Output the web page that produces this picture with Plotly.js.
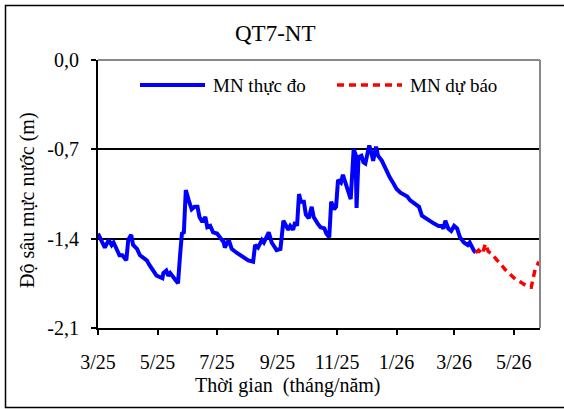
<!DOCTYPE html>
<html>
<head>
<meta charset="utf-8">
<script src="https://cdn.plot.ly/plotly-3.0.1.min.js"></script>
<style>html,body{margin:0;padding:0;background:#fff;}#chart{width:564px;height:409px;}</style>
</head>
<body>
<div id="chart"></div>
<script>
// Observed water level depth (MN thực đo)
const obsDates = ['2025-03-01','2025-03-05','2025-03-08','2025-03-12','2025-03-15','2025-03-17','2025-03-20','2025-03-23','2025-03-26','2025-03-30',
'2025-04-01','2025-04-04','2025-04-06','2025-04-10','2025-04-13','2025-04-18','2025-04-20','2025-04-23','2025-04-26','2025-04-30',
'2025-05-06','2025-05-07','2025-05-10','2025-05-12','2025-05-14','2025-05-18','2025-05-22','2025-05-24','2025-05-26','2025-05-28','2025-05-30',
'2025-06-02','2025-06-05','2025-06-08','2025-06-11','2025-06-13','2025-06-16','2025-06-19','2025-06-21','2025-06-24','2025-06-27',
'2025-07-01','2025-07-06','2025-07-07','2025-07-09','2025-07-13','2025-07-16','2025-07-21','2025-07-25','2025-07-30',
'2025-08-02','2025-08-07','2025-08-09','2025-08-12','2025-08-16','2025-08-18','2025-08-23','2025-08-26','2025-08-31',
'2025-09-04','2025-09-07','2025-09-12','2025-09-14','2025-09-17','2025-09-19','2025-09-21','2025-09-23','2025-09-25','2025-09-28','2025-09-30',
'2025-10-03','2025-10-06','2025-10-08','2025-10-12','2025-10-15','2025-10-19','2025-10-21','2025-10-24','2025-10-26','2025-10-29','2025-10-31',
'2025-11-02','2025-11-05','2025-11-07','2025-11-10','2025-11-13','2025-11-15','2025-11-18','2025-11-20','2025-11-21','2025-11-23','2025-11-26','2025-11-28','2025-11-30',
'2025-12-01','2025-12-04','2025-12-06','2025-12-08','2025-12-11','2025-12-13','2025-12-17','2025-12-20','2025-12-22','2025-12-25','2025-12-29',
'2026-01-01','2026-01-05','2026-01-08','2026-01-12','2026-01-15','2026-01-20','2026-01-24','2026-01-27','2026-01-31',
'2026-02-03','2026-02-08','2026-02-13','2026-02-16','2026-02-18','2026-02-20','2026-02-23','2026-02-26',
'2026-03-01','2026-03-04','2026-03-07','2026-03-11','2026-03-15','2026-03-17','2026-03-21','2026-03-23'];
const obsDepth = [-1.36,-1.43,-1.47,-1.41,-1.45,-1.43,-1.48,-1.53,-1.53,-1.57,
-1.41,-1.37,-1.45,-1.48,-1.53,-1.56,-1.57,-1.61,-1.64,-1.69,
-1.71,-1.67,-1.65,-1.69,-1.67,-1.71,-1.75,-1.54,-1.36,-1.35,-1.02,
-1.10,-1.17,-1.15,-1.15,-1.23,-1.27,-1.23,-1.31,-1.30,-1.35,
-1.36,-1.41,-1.40,-1.47,-1.41,-1.48,-1.51,-1.53,-1.55,
-1.57,-1.58,-1.45,-1.47,-1.41,-1.43,-1.35,-1.43,-1.49,
-1.48,-1.26,-1.33,-1.30,-1.33,-1.27,-1.30,-1.05,-1.11,-1.11,-1.21,
-1.24,-1.15,-1.23,-1.28,-1.31,-1.32,-1.36,-1.39,-1.11,-1.17,-1.15,
-0.94,-0.96,-0.90,-0.97,-1.04,-1.09,-0.70,-0.74,-1.16,-0.76,-0.75,-0.80,-0.81,
-0.77,-0.67,-0.72,-0.79,-0.68,-0.75,-0.79,-0.84,-0.87,-0.92,-0.97,
-1.01,-1.04,-1.05,-1.07,-1.10,-1.13,-1.15,-1.22,-1.24,
-1.26,-1.28,-1.30,-1.30,-1.32,-1.26,-1.32,-1.34,
-1.30,-1.32,-1.39,-1.43,-1.45,-1.43,-1.49,-1.51];

// Forecast water level depth (MN dự báo)
const fcDates = ['2026-03-23','2026-03-26','2026-03-30','2026-04-02','2026-04-05','2026-04-09','2026-04-14','2026-04-17','2026-04-22','2026-04-27',
'2026-05-03','2026-05-08','2026-05-13','2026-05-16','2026-05-19','2026-05-21','2026-05-23','2026-05-25','2026-05-27'];
const fcDepth = [-1.51,-1.49,-1.52,-1.44,-1.50,-1.52,-1.57,-1.59,-1.64,-1.68,
-1.72,-1.74,-1.77,-1.78,-1.78,-1.71,-1.64,-1.61,-1.58];

const xTickVals = ['2025-03-01','2025-05-01','2025-07-01','2025-09-01','2025-11-01','2026-01-01','2026-03-01','2026-05-01'];
const xTickText = ['3/25','5/25','7/25','9/25','11/25','1/26','3/26','5/26'];
const yTickVals = [0,-0.7,-1.4,-2.1];
const yTickText = ['0,0','-0,7','-1,4','-2,1'];

const seriesNames = ['MN thực đo','MN dự báo'];
const chartTitle = 'QT7-NT';
const xTitle = 'Thời gian  (tháng/năm)';
const yTitle = 'Độ sâu mực nước (m)';

const FONT = 'Liberation Serif, Times New Roman, DejaVu Serif, serif';
const L = 98, R = 24, T = 60, B = 81, W = 564, H = 409;
const pw = W - L - R, ph = H - T - B;
const px = x => (x - L) / pw;
const py = y => (H - B - y) / ph;

const traces = [
  {x: obsDates, y: obsDepth, type: 'scatter', mode: 'lines', name: seriesNames[0],
   line: {color: '#0000FF', width: 4}, showlegend: false},
  {x: fcDates, y: fcDepth, type: 'scatter', mode: 'lines', name: seriesNames[1],
   line: {color: '#FF0000', width: 3.5, dash: '7px,5px'}, showlegend: false}
];

const layout = {
  width: W, height: H,
  margin: {l: L, r: R, t: T, b: B, pad: 0},
  paper_bgcolor: '#fff', plot_bgcolor: '#fff',
  font: {family: FONT, color: '#000', size: 19},
  showlegend: false,
  xaxis: {
    type: 'date', range: ['2025-03-01', '2026-05-28'],
    tickmode: 'array', tickvals: xTickVals, ticktext: xTickText,
    showgrid: false, zeroline: false,
    showline: true, linecolor: '#000', linewidth: 2,
    ticks: 'outside', ticklen: 5, tickwidth: 2, tickcolor: '#000',
    tickfont: {family: FONT, size: 20, color: '#000'},
    ticklabelstandoff: 10
  },
  yaxis: {
    range: [-2.1, 0],
    tickmode: 'array', tickvals: yTickVals, ticktext: yTickText,
    showgrid: true, gridcolor: '#000', gridwidth: 2, zeroline: false,
    showline: true, linecolor: '#000', linewidth: 2,
    ticks: 'outside', ticklen: 5, tickwidth: 2, tickcolor: '#000',
    tickfont: {family: FONT, size: 20, color: '#000'},
    ticklabelstandoff: 8
  },
  shapes: [
    {type: 'line', xref: 'paper', yref: 'paper', x0: 0, x1: 1, y0: 1, y1: 1, line: {color: '#888', width: 2}, layer: 'above'},
    {type: 'line', xref: 'paper', yref: 'paper', x0: 1, x1: 1, y0: 0, y1: 1, line: {color: '#888', width: 2}, layer: 'above'},
    {type: 'rect', xref: 'paper', yref: 'paper', x0: px(5.5), x1: px(570), y0: py(5.5), y1: py(407.5), line: {color: '#000', width: 1.5}, layer: 'below'},
    {type: 'line', xref: 'paper', yref: 'paper', x0: px(140), x1: px(205), y0: py(85), y1: py(85), line: {color: '#0000FF', width: 4}},
    {type: 'line', xref: 'paper', yref: 'paper', x0: px(337), x1: px(402), y0: py(85), y1: py(85), line: {color: '#FF0000', width: 3.5, dash: '7px,5px'}}
  ],
  annotations: [
    {text: chartTitle, xref: 'paper', yref: 'paper', x: px(274.5), y: py(33), xanchor: 'center', yanchor: 'middle', showarrow: false, font: {family: FONT, size: 23, color: '#000'}},
    {text: xTitle, xref: 'paper', yref: 'paper', x: px(288), y: py(385), xanchor: 'center', yanchor: 'middle', showarrow: false, font: {family: FONT, size: 20, color: '#000'}},
    {text: yTitle, xref: 'paper', yref: 'paper', x: px(27), y: py(200), xanchor: 'center', yanchor: 'middle', textangle: -90, showarrow: false, font: {family: FONT, size: 20, color: '#000'}},
    {text: seriesNames[0], xref: 'paper', yref: 'paper', x: px(211), y: py(85), xanchor: 'left', yanchor: 'middle', showarrow: false, font: {family: FONT, size: 19, color: '#000'}},
    {text: seriesNames[1], xref: 'paper', yref: 'paper', x: px(408), y: py(85), xanchor: 'left', yanchor: 'middle', showarrow: false, font: {family: FONT, size: 19, color: '#000'}}
  ]
};

Plotly.newPlot('chart', traces, layout, {staticPlot: true, displayModeBar: false});
</script>
</body>
</html>
